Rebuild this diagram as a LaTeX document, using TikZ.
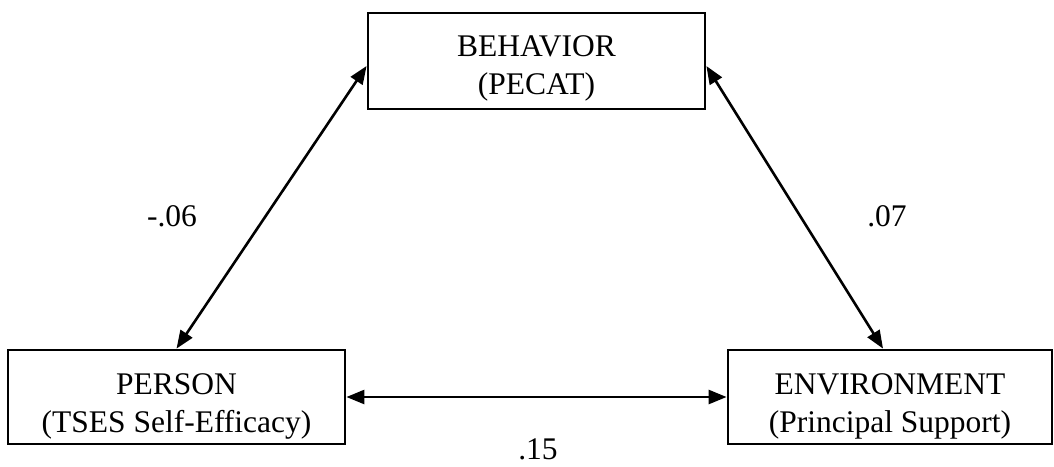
\documentclass[tikz,border=0pt]{standalone}
\usepackage{fontspec}
\setmainfont{Liberation Serif}
\usetikzlibrary{arrows.meta}
\begin{document}
\begin{tikzpicture}[x=1pt,y=-1pt,
  construct/.style={draw, line width=2.8pt, inner sep=0pt},
  caption/.style={align=center, inner sep=0pt, font=\fontsize{31.5}{38}\selectfont},
  link/.style={line width=2.6pt, {Triangle[length=18pt,width=14pt]}-{Triangle[length=18pt,width=14pt]}},
  coef/.style={font=\fontsize{31.5}{38}\selectfont}]
\useasboundingbox (0,0) rectangle (1054,466);

% the three constructs
\node[construct, minimum width=337pt, minimum height=96pt] (beh) at (536.5,61) {};
\node[construct, minimum width=337pt, minimum height=94pt] (per) at (176.5,397) {};
\node[construct, minimum width=324pt, minimum height=94pt] (env) at (890,397) {};

\node[caption] (behT) at ([yshift=-7pt]beh.center) {BEHAVIOR\\(PECAT)};
\node[caption] (perT) at ([yshift=-9pt]per.center) {PERSON\\(TSES Self-Efficacy)};
\node[caption] (envT) at ([yshift=-9pt]env.center) {ENVIRONMENT\\(Principal Support)};

% reciprocal paths
\draw[link] ([yshift=-5pt]beh.west) -- (per.north);
\draw[link] ([yshift=-5pt]beh.east) -- ([xshift=-7pt]env.north);
\draw[link] (per.east) -- (env.west);

% path coefficients
\node[coef] (c1) at (172,216) {-.06};
\node[coef] (c2) at (887,216) {.07};
\node[coef] (c3) at (538,449) {.15};
\end{tikzpicture}
\end{document}
